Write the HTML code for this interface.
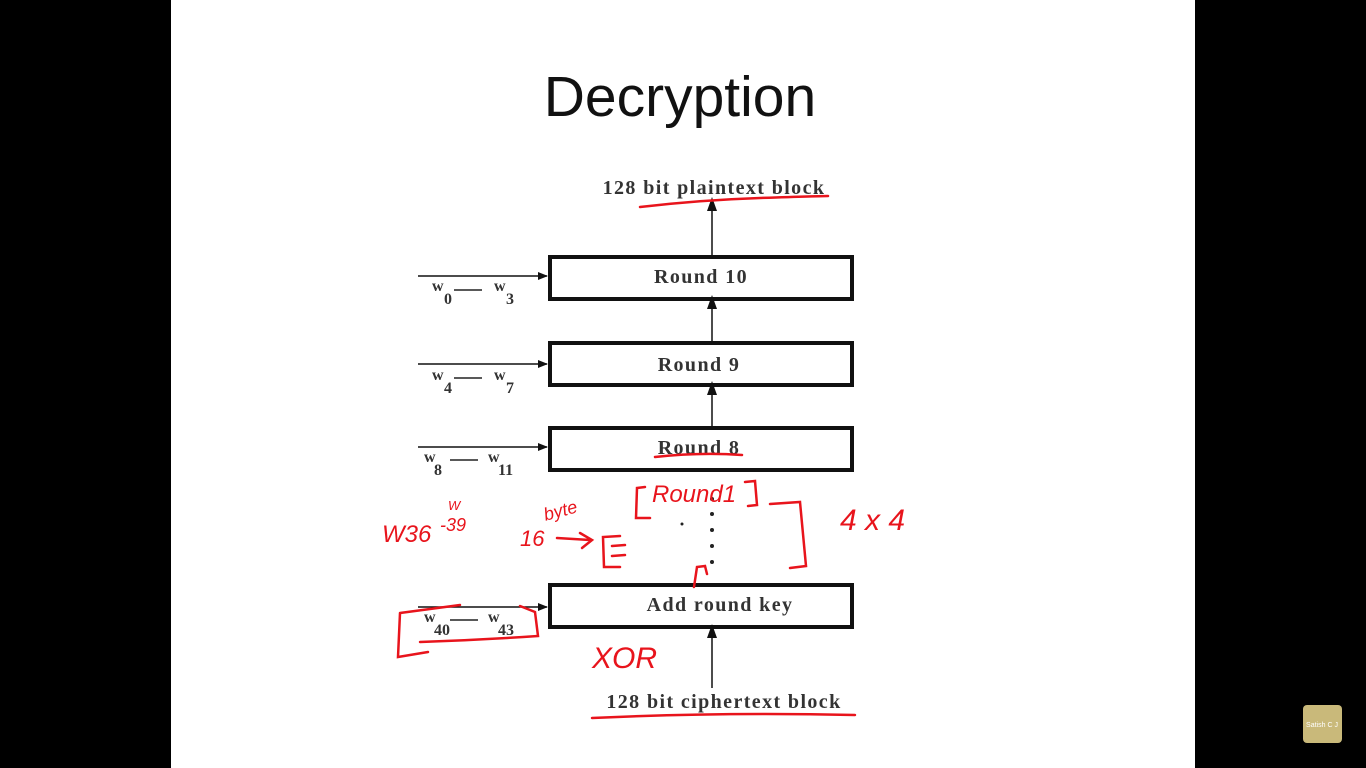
<!DOCTYPE html>
<html><head><meta charset="utf-8"><style>
html,body{margin:0;padding:0;background:#000;width:1366px;height:768px;overflow:hidden}
svg{display:block}
</style></head><body>
<svg width="1366" height="768" xmlns="http://www.w3.org/2000/svg">
<defs><marker id="ah" markerWidth="10" markerHeight="8" refX="9" refY="4" orient="auto" markerUnits="userSpaceOnUse"><path d="M0,0 L10,4 L0,8 z" fill="#111"/></marker>
<marker id="ahv" markerWidth="14" markerHeight="10" refX="7" refY="5" orient="auto" markerUnits="userSpaceOnUse"><path d="M0,0 L14,5 L0,10 z" fill="#111"/></marker></defs>
<rect x="171" y="0" width="1024" height="768" fill="#fff"/>
<text x="680" y="116" font-family="Liberation Sans, sans-serif" font-size="57" text-anchor="middle" fill="#111">Decryption</text>
<g fill="#fff" stroke="#111" stroke-width="4">
<rect x="550" y="257" width="302" height="42"/>
<rect x="550" y="343" width="302" height="42"/>
<rect x="550" y="428" width="302" height="42"/>
<rect x="550" y="585" width="302" height="42"/>
</g>
<g font-family="Liberation Serif, serif" font-size="20" font-weight="bold" fill="#333" letter-spacing="1.4">
<text x="714" y="194" text-anchor="middle">128 bit plaintext block</text>
<text x="701" y="283" text-anchor="middle">Round 10</text>
<text x="699" y="371" text-anchor="middle">Round 9</text>
<text x="699" y="454" text-anchor="middle">Round 8</text>
<text x="720" y="611" text-anchor="middle">Add round key</text>
<text x="724" y="708" text-anchor="middle">128 bit ciphertext block</text>
</g>
<g stroke="#111" stroke-width="1.5" fill="none">
<line x1="712" y1="255" x2="712" y2="204" marker-end="url(#ahv)"/>
<line x1="712" y1="341" x2="712" y2="302" marker-end="url(#ahv)"/>
<line x1="712" y1="426" x2="712" y2="388" marker-end="url(#ahv)"/>
<line x1="712" y1="688" x2="712" y2="631" marker-end="url(#ahv)"/>
<line x1="418" y1="276" x2="547" y2="276" marker-end="url(#ah)"/>
<line x1="418" y1="364" x2="547" y2="364" marker-end="url(#ah)"/>
<line x1="418" y1="447" x2="547" y2="447" marker-end="url(#ah)"/>
<line x1="418" y1="607" x2="547" y2="607" marker-end="url(#ah)"/>
</g>
<g fill="#222"><circle cx="712" cy="499" r="2"/><circle cx="712" cy="514" r="2"/><circle cx="712" cy="530" r="2"/><circle cx="712" cy="546" r="2"/><circle cx="712" cy="562" r="2"/><circle cx="682" cy="524" r="1.5"/></g>
<g font-family="Liberation Serif, serif" font-size="16" font-weight="bold" fill="#333">
<text x="432" y="291">w</text><text x="444" y="304">0</text><text x="494" y="291">w</text><text x="506" y="304">3</text>
<text x="432" y="380">w</text><text x="444" y="393">4</text><text x="494" y="380">w</text><text x="506" y="393">7</text>
<text x="424" y="462">w</text><text x="434" y="475">8</text><text x="488" y="462">w</text><text x="498" y="475">11</text>
<text x="424" y="622">w</text><text x="434" y="635">40</text><text x="488" y="622">w</text><text x="498" y="635">43</text>
</g>
<g stroke="#222" stroke-width="1.5"><line x1="454" y1="290" x2="482" y2="290"/><line x1="454" y1="378" x2="482" y2="378"/><line x1="450" y1="460" x2="478" y2="460"/><line x1="450" y1="620" x2="478" y2="620"/></g>
<g stroke="#e8141c" stroke-width="2.5" fill="none" stroke-linecap="round">
<path d="M640,207 Q700,200 760,198 T828,196"/>
<path d="M592,718 Q720,712 855,715"/>
<path d="M655,457 Q700,452 742,455"/>
<path d="M400,613 L398,657 L428,652 M400,613 L460,605 M420,642 Q480,640 538,636 L535,612 L520,606"/>
<path d="M620,536 L603,537 L604,567 L620,567 M612,546 L625,545 M612,556 L625,555"/>
<path d="M645,487 L637,488 L636,518 L650,518 M745,482 L755,481 L757,505 L748,506"/>
<path d="M770,504 L800,502 L806,566 L790,568"/>
<path d="M557,538 L590,540 M580,533 L592,540 L582,548"/>
<path d="M694,587 L697,567 L705,566 L707,574"/>
</g>
<g font-family="Liberation Sans, sans-serif" fill="#e8141c" font-style="italic">
<text x="382" y="542" font-size="24">W36</text><text x="440" y="531" font-size="18">-39</text><text x="448" y="510" font-size="13">W</text>
<text x="520" y="546" font-size="22">16</text><text x="545" y="517" font-size="18" transform="rotate(-15 560 517)">byte</text>
<text x="652" y="502" font-size="24">Round1</text>
<text x="840" y="530" font-size="30">4 x 4</text>
<text x="592" y="668" font-size="30">XOR</text>
</g>
<rect x="1303" y="705" width="39" height="38" rx="4" fill="#c9b97a"/>
<text x="1322" y="727" font-family="Liberation Sans, sans-serif" font-size="7" fill="#fff" text-anchor="middle">Satish C J</text>
</svg>
</body></html>
